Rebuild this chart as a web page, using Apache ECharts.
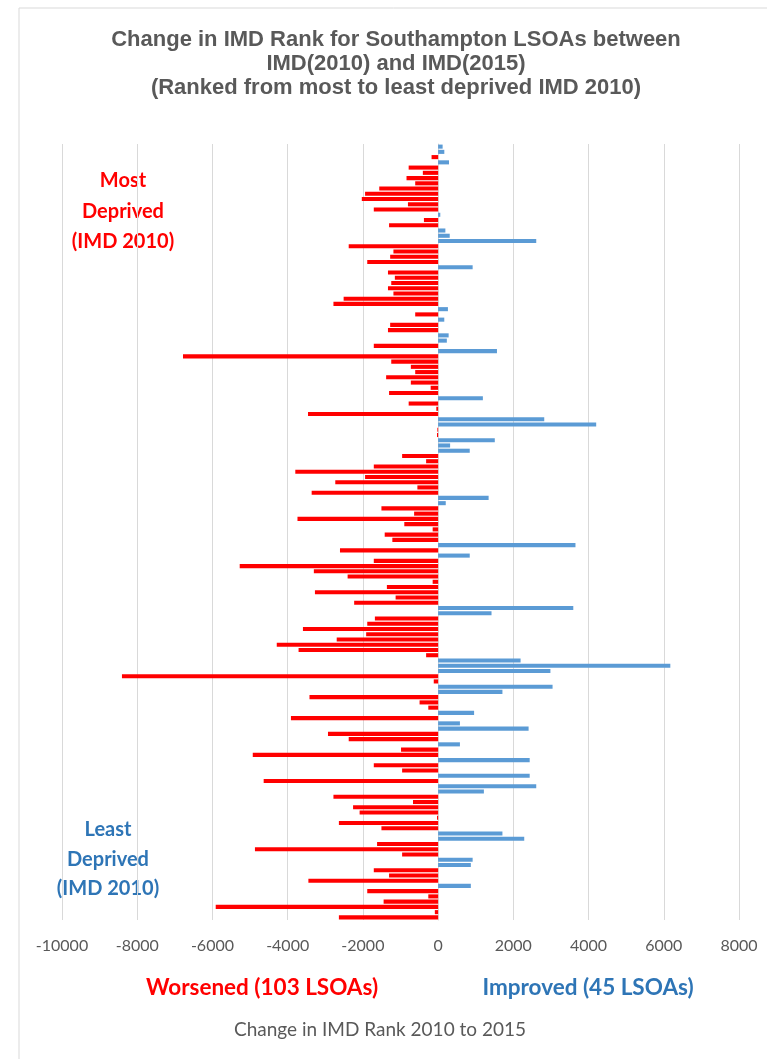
<!DOCTYPE html>
<html>
<head>
<meta charset="utf-8">
<script src="https://cdn.jsdelivr.net/npm/echarts@6/dist/echarts.min.js"></script>
<style>
  html, body { margin: 0; padding: 0; background: #fff; }
  #chart { width: 767px; height: 1059px; }
</style>
</head>
<body>
<div id="chart"></div>
<script>
// change in IMD rank per LSOA, ordered from most deprived (top) to least deprived (bottom) in IMD 2010
const rankChange = [
  120, 165, -174, 290, -783, -406, -840, -609, -1565, -1942,
  -2029, -802, -1710, 58, -377, -1304, 193, 309, 2609, -2377,
  -1188, -1275, -1884, 918, -1333, -1150, -1246, -1333, -1188, -2512,
  -2783, 261, -609, 164, -1275, -1333, 280, 232, -1710, 1565,
  -6783, -1246, -725, -609, -1382, -725, -198, -1304, 1190, -783,
  -48, -3459, 2822, 4203, -20, -30, 1507, 319, 841, -957,
  -319, -1710, -3797, -1942, -2734, -551, -3362, 1343, 203, -1507,
  -638, -3739, -899, -145, -1420, -1217, 3652, -2609, 841, -1710,
  -5275, -3304, -2406, -145, -1362, -3275, -1130, -2232, 3594, 1420,
  -1681, -1884, -3594, -1913, -2696, -4290, -3710, -319, 2193, 6174,
  2986, -8406, -116, 3043, 1710, -3420, -493, -261, 957, -3913,
  580, 2406, -2928, -2377, 580, -986, -4928, 2435, -1710, -957,
  2435, -4638, 2609, 1217, -2783, -667, -2261, -2087, -29, -2638,
  -1507, 1710, 2290, -1623, -4870, -957, 918, 870, -1710, -1304,
  -3449, 870, -1884, -261, -1449, -5913, -87, -2638
];
const lsoaIndex = rankChange.map((v, i) => 'LSOA ' + (i + 1));
const xTicks = [-10000, -8000, -6000, -4000, -2000, 0, 2000, 4000, 6000, 8000];

const chart = echarts.init(document.getElementById('chart'));

const titleStyle = { fill: '#595959', font: 'bold 22px "Liberation Sans", Arial, sans-serif', textAlign: 'center', textVerticalAlign: 'middle' };
const redLabel = { fill: '#ff0000', font: 'bold 20px Lato, sans-serif', textAlign: 'center', textVerticalAlign: 'middle' };
const blueLabel = { fill: '#2e75b6', font: 'bold 20px Lato, sans-serif', textAlign: 'center', textVerticalAlign: 'middle' };
const bigRed = Object.assign({}, redLabel, { font: 'bold 22.5px Lato, sans-serif' });
const bigBlue = Object.assign({}, blueLabel, { font: 'bold 22.5px Lato, sans-serif' });

const option = {
  animation: false,
  backgroundColor: '#fff',
  grid: { left: 62, right: 28, top: 144, bottom: 139 },
  xAxis: {
    type: 'value',
    min: xTicks[0],
    max: xTicks[xTicks.length - 1],
    interval: 2000,
    axisLine: { show: false },
    axisTick: { show: false },
    axisLabel: { color: '#595959', fontSize: 16, fontFamily: 'Lato', margin: 18, formatter: v => String(v) },
    splitLine: { lineStyle: { color: '#d9d9d9', width: 1 } }
  },
  yAxis: {
    type: 'category',
    inverse: true,
    data: lsoaIndex,
    axisLine: { show: true, lineStyle: { color: '#d9d9d9' } },
    axisTick: { show: false },
    axisLabel: { show: false }
  },
  series: [{
    type: 'bar',
    data: rankChange,
    barCategoryGap: '22%',
    itemStyle: {
      color: p => (p.value < 0 ? '#ff0000' : '#5b9bd5')
    }
  }],
  graphic: [
    { type: 'rect', shape: { x: 19, y: 8, width: 800, height: 1100 }, style: { fill: 'none', stroke: '#d9d9d9', lineWidth: 1 }, z: -1 },
    { type: 'text', x: 396, y: 40, style: Object.assign({ text: 'Change in IMD Rank for Southampton LSOAs between' }, titleStyle) },
    { type: 'text', x: 396, y: 64, style: Object.assign({ text: 'IMD(2010) and IMD(2015)' }, titleStyle) },
    { type: 'text', x: 396, y: 88, style: Object.assign({ text: '(Ranked from most to least deprived IMD 2010)' }, titleStyle) },
    { type: 'text', x: 123, y: 181, style: Object.assign({ text: 'Most' }, redLabel) },
    { type: 'text', x: 123, y: 212, style: Object.assign({ text: 'Deprived' }, redLabel) },
    { type: 'text', x: 123, y: 242, style: Object.assign({ text: '(IMD 2010)' }, redLabel) },
    { type: 'text', x: 108, y: 830, style: Object.assign({ text: 'Least' }, blueLabel) },
    { type: 'text', x: 108, y: 860, style: Object.assign({ text: 'Deprived' }, blueLabel) },
    { type: 'text', x: 108, y: 889, style: Object.assign({ text: '(IMD 2010)' }, blueLabel) },
    { type: 'text', x: 262, y: 988, style: Object.assign({ text: 'Worsened (103 LSOAs)' }, bigRed) },
    { type: 'text', x: 588, y: 988, style: Object.assign({ text: 'Improved (45 LSOAs)' }, bigBlue) },
    { type: 'text', x: 380, y: 1030, style: { text: 'Change in IMD Rank 2010 to 2015', fill: '#595959', font: '19px Lato, sans-serif', textAlign: 'center', textVerticalAlign: 'middle' } }
  ]
};

chart.setOption(option);
</script>
</body>
</html>
